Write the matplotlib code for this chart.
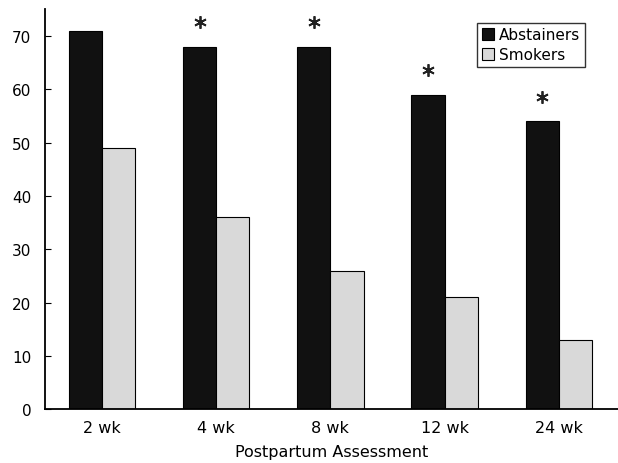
import matplotlib.pyplot as plt
import numpy as np

weeks = ['2 wk', '4 wk', '8 wk', '12 wk', '24 wk']
abstainers = [71, 68, 68, 59, 54]
smokers = [49, 36, 26, 21, 13]
significant = [False, True, True, True, True]

fig = plt.figure(figsize=(6.18, 4.64), dpi=100)
ax = fig.add_axes([0.073, 0.116, 0.927, 0.862])

x = np.arange(len(weeks))
w = 0.29
ax.bar(x - w/2, abstainers, w, color='#111111', edgecolor='black', linewidth=0.8, label='Abstainers')
ax.bar(x + w/2, smokers, w, color='#d9d9d9', edgecolor='black', linewidth=0.8, label='Smokers')

# asterisks over significant differences
for xi, v, s in zip(x, abstainers, significant):
    if s:
        ax.plot(xi - w/2, v + 4.6, marker=(6, 2, 0), markersize=9, mew=1.3,
                color='#222222', clip_on=False)

ax.set_xlim(-0.5, 4.52)
ax.set_ylim(0, 75)
ax.set_yticks(range(0, 71, 10))
ax.set_xticks(x)
ax.set_xticklabels(weeks)
ax.tick_params(axis='x', length=0, pad=8, labelsize=11.5)
ax.tick_params(axis='y', direction='in', length=4, pad=10, labelsize=11)
ax.set_xlabel('Postpartum Assessment', fontsize=11.5, labelpad=6)
ax.spines['top'].set_visible(False)
ax.spines['right'].set_visible(False)
ax.spines['left'].set_linewidth(1.3)
ax.spines['bottom'].set_linewidth(1.3)

leg = ax.legend(loc='upper right', bbox_to_anchor=(0.955, 0.985), fontsize=11,
                frameon=True, fancybox=False, edgecolor='black', handlelength=0.8,
                handleheight=0.8, handletextpad=0.3, borderpad=0.3, labelspacing=0.3)
leg.get_frame().set_linewidth(1.0)

fig.savefig('out.png', dpi=100)
